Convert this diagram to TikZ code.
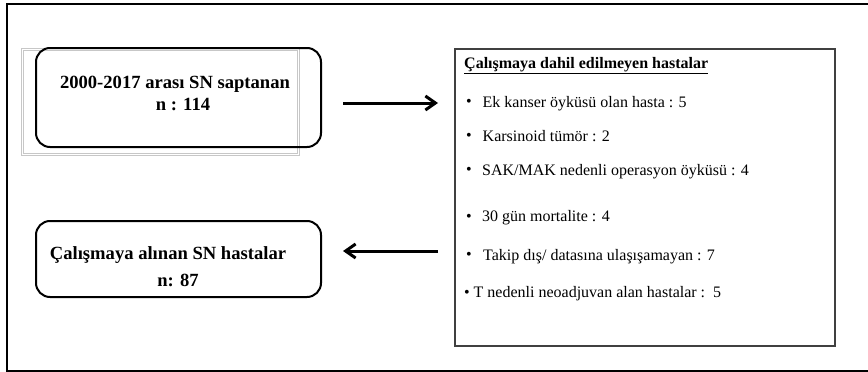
\documentclass[tikz,border=0pt]{standalone}
\usepackage{fontspec}
\setmainfont{Liberation Serif}
\usetikzlibrary{arrows.meta}
\newcommand{\blt}[1]{\makebox[#1][l]{\raisebox{0.5pt}{•}}}
\begin{document}
\begin{tikzpicture}[x=1pt,y=-1pt,
  flowbox/.style={draw=black,line width=2pt,rounded corners=14pt,minimum width=285pt,inner sep=0pt},
  listbox/.style={draw=black!75,line width=1.4pt,minimum width=380pt,minimum height=297pt,inner sep=0pt},
  boldtxt/.style={anchor=base,font=\fontsize{18.6}{22}\selectfont\bfseries,inner sep=0pt},
  item/.style={anchor=base west,font=\fontsize{16}{19}\selectfont,inner sep=0pt},
  arr/.style={line width=3pt,-{Straight Barb[length=10pt,width=14pt]}},
  ghost/.style={draw=black!22,line width=0.6pt}]
\useasboundingbox (0,0) rectangle (868,372);

% outer frame (open on the right)
\draw[line width=2pt] (868,4) -- (7,4) -- (7,371) -- (868,371);

% faint double frame behind the first box
\draw[ghost] (21,48) rectangle (299,155);
\draw[ghost] (23,50) rectangle (297,153);

% source box
\node[flowbox,minimum height=99pt] (src) at (178.5,97.5) {};
\node[boldtxt] (srcA) at (175,88) {2000-2017 arası SN saptanan};
\node[boldtxt] (srcB) at (183,110) {n : 114};

% included box
\node[flowbox,minimum height=76pt] (inc) at (178.5,259) {};
\node[boldtxt] (incA) at (168,259) {Çalışmaya alınan SN hastalar};
\node[boldtxt] (incB) at (178,286) {n: 87};

% exclusion list
\node[listbox] (list) at (645,197.5) {};
\node[item,font=\fontsize{16}{19}\selectfont\bfseries] (lt) at (464,68) {\underline{Çalışmaya dahil edilmeyen hastalar}};
\node[item] (l1) at (466,107) {\blt{16.5pt}Ek kanser öyküsü olan hasta : 5};
\node[item] (l2) at (466,141) {\blt{16.5pt}Karsinoid tümör : 2};
\node[item] (l3) at (466,175) {\blt{16pt}SAK/MAK nedenli operasyon öyküsü : 4};
\node[item] (l4) at (466,221.5) {\blt{16pt}30 gün mortalite : 4};
\node[item] (l5) at (466,260) {\blt{17pt}Takip dış/ datasına ulaşışamayan : 7};
\node[item] (l6) at (464,297.5) {\blt{9.5pt}T nedenli neoadjuvan alan hastalar :~~5};

% arrows
\coordinate (a1s) at (343,103);
\coordinate (a1e) at (438,103);
\coordinate (a2s) at (438,251);
\coordinate (a2e) at (343,251);
\draw[arr] (a1s) -- (a1e);
\draw[arr] (a2s) -- (a2e);
\end{tikzpicture}
\end{document}
